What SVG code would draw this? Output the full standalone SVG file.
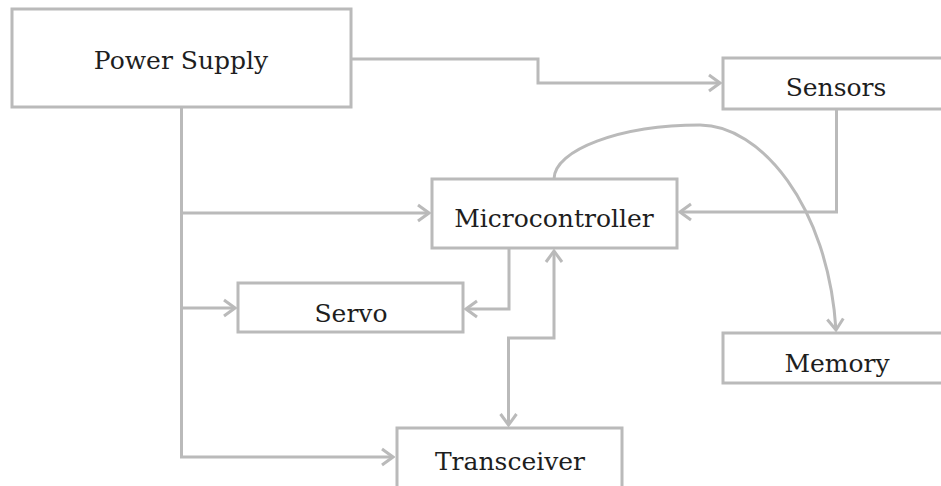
<svg xmlns="http://www.w3.org/2000/svg" width="941" height="486" viewBox="0 0 941 486">
<style>
.box{fill:#fff;stroke:#bababa;stroke-width:3}
.lbl{font-family:"DejaVu Serif","Liberation Serif",serif;font-size:25px;fill:#1e1e1e;text-anchor:middle}
.con{fill:none;stroke:#bababa;stroke-width:3}
</style>
<defs>
<marker id="arr" markerUnits="userSpaceOnUse" viewBox="-14 -10 16 20" refX="0" refY="0" markerWidth="16" markerHeight="20" orient="auto-start-reverse">
<path d="M-11,-8 L0,0 L-11,8" fill="none" stroke="#bababa" stroke-width="3" stroke-linejoin="miter"/>
</marker>
</defs>
<rect width="941" height="486" fill="#fff"/>
<g id="connectors">
<path class="con" d="M351,59 H538 V83 H720" marker-end="url(#arr)"/>
<path class="con" d="M181.5,107 V457 H393" marker-end="url(#arr)"/>
<path class="con" d="M181.5,213 H429" marker-end="url(#arr)"/>
<path class="con" d="M181.5,308 H235" marker-end="url(#arr)"/>
<path class="con" d="M836.5,109 V212 H680" marker-end="url(#arr)"/>
<path class="con" d="M509,248 V309 H466" marker-end="url(#arr)"/>
<path class="con" d="M554,251 V338 H508.5 V425" marker-start="url(#arr)" marker-end="url(#arr)"/>
<path class="con" d="M554,179 C554,150 620,125 700,125 C760,125 828,205 836,330" marker-end="url(#arr)"/>
</g>
<g id="power-supply"><rect class="box" x="12" y="9" width="339" height="98"/><text class="lbl" x="181" y="69">Power Supply</text></g>
<g id="sensors"><rect class="box" x="723" y="58" width="226" height="51"/><text class="lbl" x="836" y="96">Sensors</text></g>
<g id="microcontroller"><rect class="box" x="432" y="179" width="245" height="69"/><text class="lbl" x="554" y="227">Microcontroller</text></g>
<g id="servo"><rect class="box" x="238" y="283" width="225" height="49"/><text class="lbl" x="351" y="322">Servo</text></g>
<g id="memory"><rect class="box" x="723" y="333" width="228" height="50"/><text class="lbl" x="837" y="372">Memory</text></g>
<g id="transceiver"><rect class="box" x="397" y="428" width="225" height="68"/><text class="lbl" x="510" y="470">Transceiver</text></g>
</svg>
